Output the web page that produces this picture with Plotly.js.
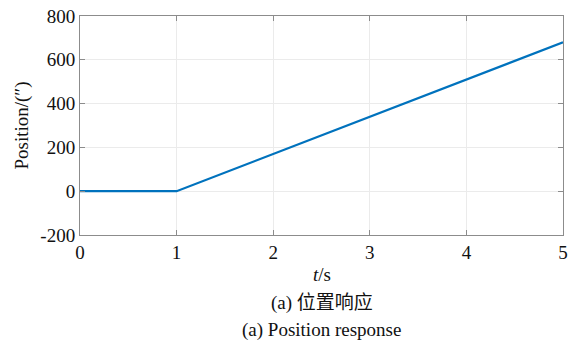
<!DOCTYPE html>
<html>
<head>
<meta charset="utf-8">
<script src="https://cdn.plot.ly/plotly-3.0.1.min.js"></script>
<style>html,body{margin:0;padding:0;background:#fff}#chart{width:572px;height:350px}</style>
</head>
<body>
<div id="chart"></div>
<script>
var timeS = [0, 1, 5];
var position = [0, 0, 680];
var xTicks = [0, 1, 2, 3, 4, 5];
var yTicks = [-200, 0, 200, 400, 600, 800];

var serif = "Liberation Serif";
var trace = {
  x: timeS, y: position, type: "scatter", mode: "lines",
  line: {color: "#0072BD", width: 2.2}, hoverinfo: "skip"
};
var axisCommon = {
  showline: true, mirror: "ticks", linecolor: "#8c8c8c", linewidth: 1,
  ticks: "inside", ticklen: 5, tickcolor: "#8c8c8c",
  showgrid: true, gridcolor: "#ebebeb", gridwidth: 1,
  zeroline: false, tickfont: {family: serif, size: 19, color: "#111"}
};
var layout = {
  width: 572, height: 350,
  margin: {l: 80, r: 9, t: 16, b: 115},
  paper_bgcolor: "#fff", plot_bgcolor: "#fff",
  showlegend: false,
  xaxis: Object.assign({}, axisCommon, {range: [0, 5], tickvals: xTicks, ticktext: xTicks.map(String)}),
  yaxis: Object.assign({}, axisCommon, {range: [-200, 800], tickvals: yTicks, ticktext: yTicks.map(String),
    title: {text: "Position/(″)", font: {family: serif, size: 19, color: "#111"}, standoff: 6}}),
  annotations: [
    {text: "<i>t</i>/s", xref: "paper", yref: "paper", x: 0.5, y: -0.125, xanchor: "center", yanchor: "top",
     showarrow: false, font: {family: serif, size: 19, color: "#111"}},
    {text: "(a) 位置响应", xref: "paper", yref: "paper", x: 0.5, y: -0.25, xanchor: "center", yanchor: "top",
     showarrow: false, font: {family: "Liberation Serif, Noto Sans CJK SC", size: 19, color: "#111"}},
    {text: "(a) Position response", xref: "paper", yref: "paper", x: 0.5, y: -0.375, xanchor: "center", yanchor: "top",
     showarrow: false, font: {family: serif, size: 19, color: "#111"}}
  ]
};
Plotly.newPlot("chart", [trace], layout, {staticPlot: true, displayModeBar: false});
</script>
</body>
</html>
